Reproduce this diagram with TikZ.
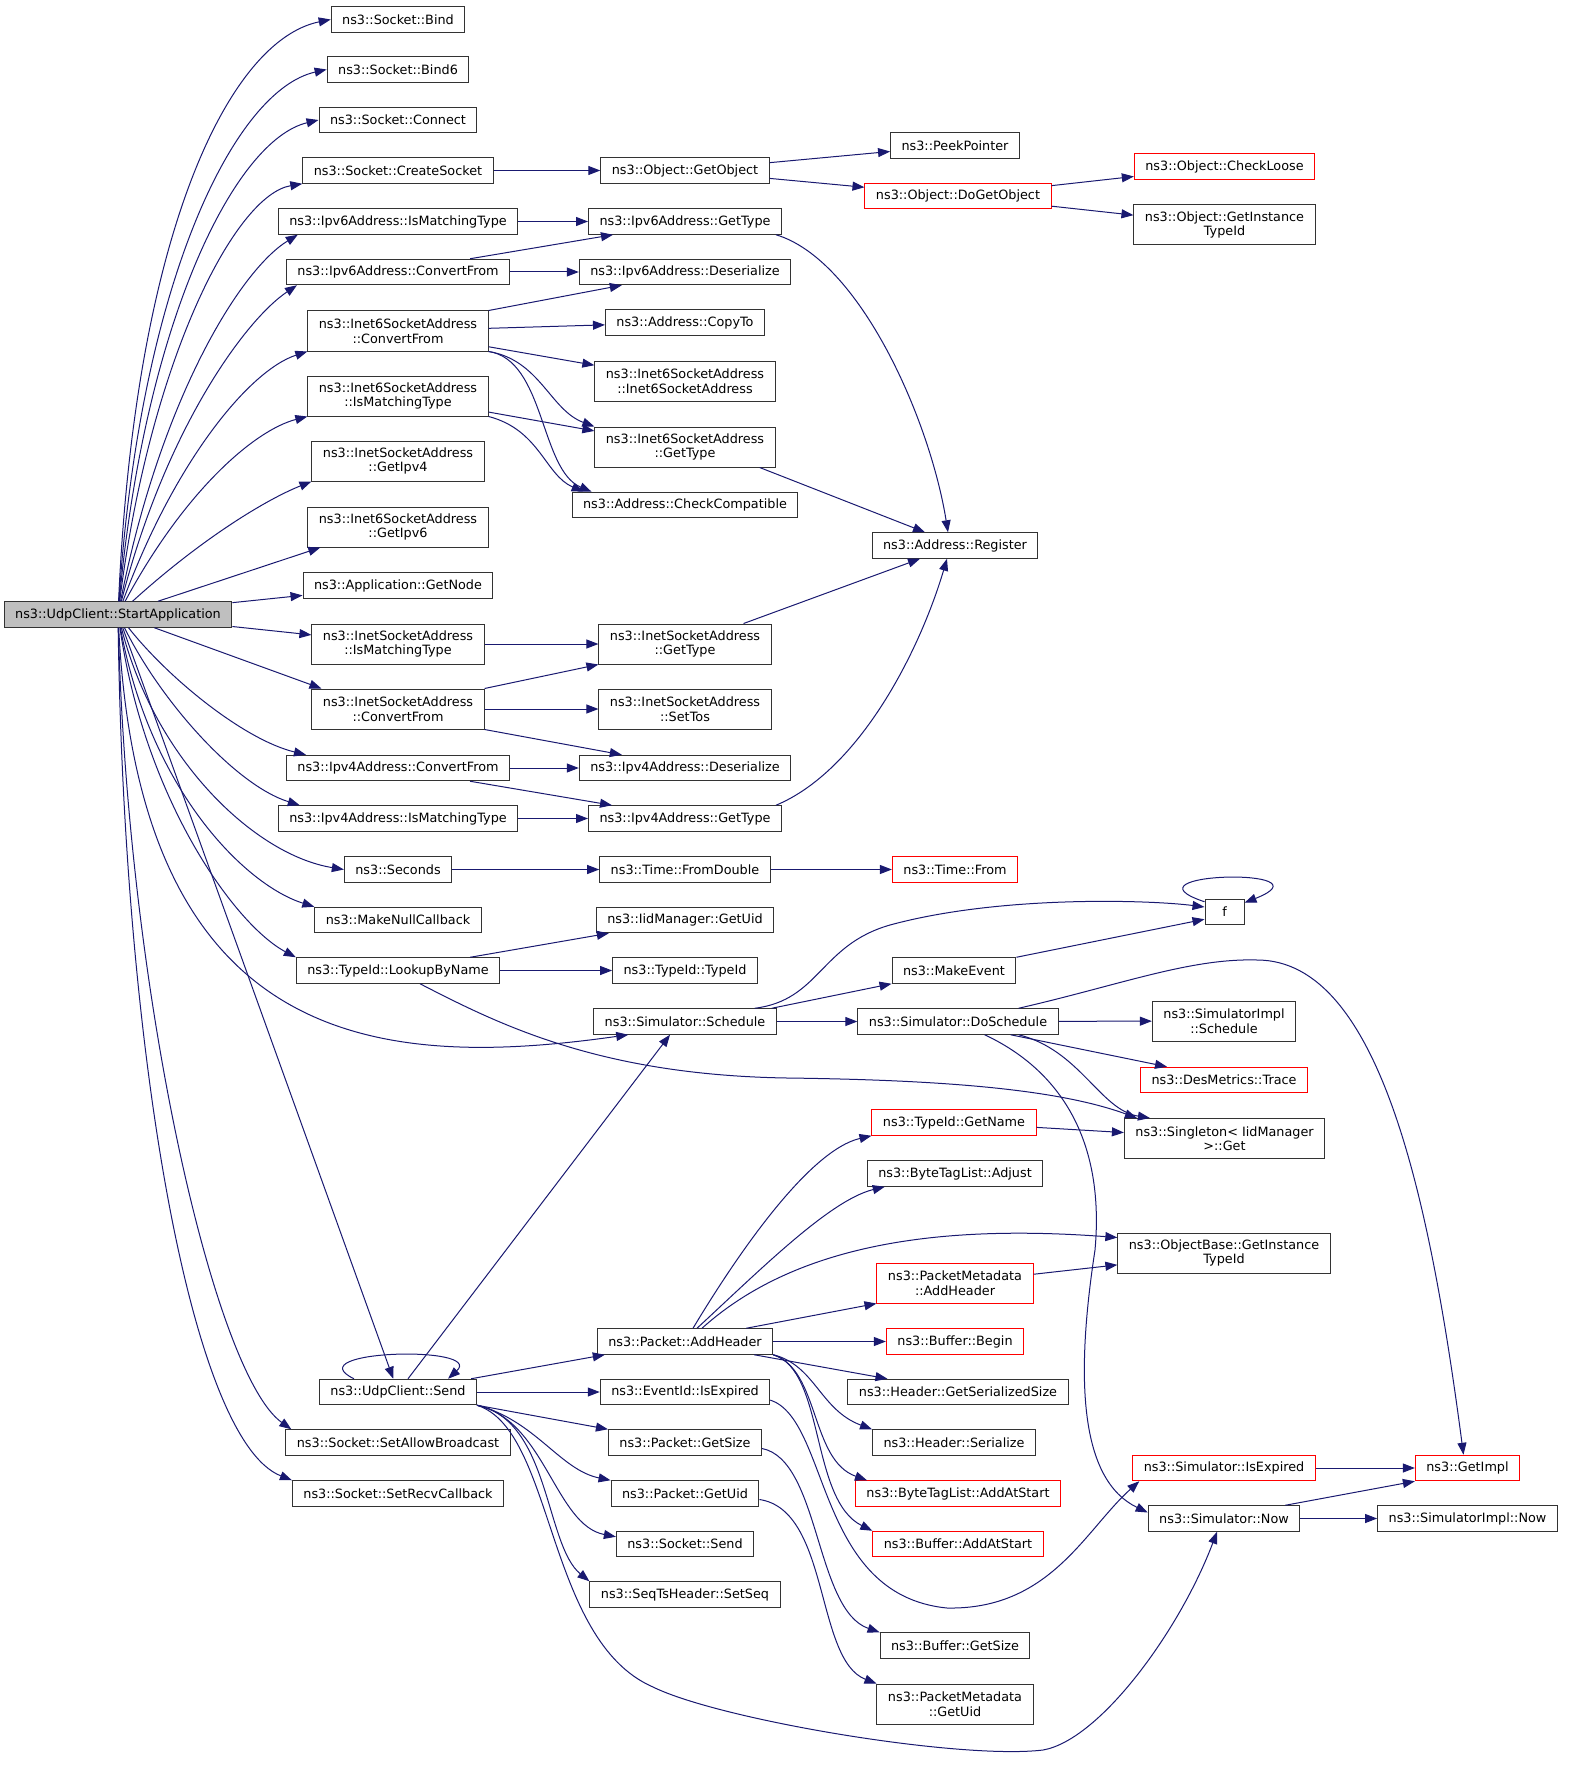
\documentclass[tikz,border=0pt]{standalone}
\usepackage{fontspec}
\setmainfont{DejaVu Sans}
\usetikzlibrary{arrows.meta}
\definecolor{edgeblue}{RGB}{25,25,112}
\newcommand{\fnfont}{\fontsize{12.8}{14.5}\selectfont}
\tikzset{
  fn/.style={draw=black!80, line width=1pt, fill=white, inner xsep=11pt, inner ysep=0pt,
    minimum height=25.5pt, align=center, font=\fnfont},
  fnred/.style={fn, draw=red},
  fnroot/.style={fn, fill=black!25},
  twoline/.style={minimum height=40pt},
  call/.style={draw=edgeblue, line width=1pt, -{Triangle[length=12pt,width=9pt]}},
}
\begin{document}
\begin{tikzpicture}[x=1pt, y=-1pt]
\useasboundingbox (0,0) rectangle (1569,1768);

\node[fnroot] (sa) at (118,614.5) {ns3::UdpClient::StartApplication};

\node[fn] (bind) at (398,19.5) {ns3::Socket::Bind};
\node[fn] (bindsix) at (398,69.5) {ns3::Socket::Bind6};
\node[fn] (connect) at (398,120) {ns3::Socket::Connect};
\node[fn] (createsock) at (398,170.5) {ns3::Socket::CreateSocket};
\node[fn] (vsixmatch) at (398,221.5) {ns3::Ipv6Address::IsMatchingType};
\node[fn] (vsixconv) at (398,272) {ns3::Ipv6Address::ConvertFrom};
\node[fn,twoline] (isixconv) at (398,331) {ns3::Inet6SocketAddress\\::ConvertFrom};
\node[fn,twoline] (isixmatch) at (398,396) {ns3::Inet6SocketAddress\\::IsMatchingType};
\node[fn,twoline] (ifourip) at (398,461) {ns3::InetSocketAddress\\::GetIpv4};
\node[fn,twoline] (isixip) at (398,527) {ns3::Inet6SocketAddress\\::GetIpv6};
\node[fn] (getnode) at (398,585.5) {ns3::Application::GetNode};
\node[fn,twoline] (ifourmatch) at (398,644) {ns3::InetSocketAddress\\::IsMatchingType};
\node[fn,twoline] (ifourconv) at (398,709) {ns3::InetSocketAddress\\::ConvertFrom};
\node[fn] (vfourconv) at (398,768) {ns3::Ipv4Address::ConvertFrom};
\node[fn] (vfourmatch) at (398,818.5) {ns3::Ipv4Address::IsMatchingType};
\node[fn] (seconds) at (398,869.5) {ns3::Seconds};
\node[fn] (nullcb) at (398,920) {ns3::MakeNullCallback};
\node[fn] (lookup) at (398,970.5) {ns3::TypeId::LookupByName};
\node[fn] (send) at (398,1392) {ns3::UdpClient::Send};
\node[fn] (allowbc) at (398,1442.5) {ns3::Socket::SetAllowBroadcast};
\node[fn] (recvcb) at (398,1493.5) {ns3::Socket::SetRecvCallback};

\node[fn] (getobj) at (685,170.5) {ns3::Object::GetObject};
\node[fn] (vsixtype) at (685,221.5) {ns3::Ipv6Address::GetType};
\node[fn] (vsixdeser) at (685,272) {ns3::Ipv6Address::Deserialize};
\node[fn] (copyto) at (685,322.5) {ns3::Address::CopyTo};
\node[fn,twoline] (isixctor) at (685,381) {ns3::Inet6SocketAddress\\::Inet6SocketAddress};
\node[fn,twoline] (isixtype) at (685,447) {ns3::Inet6SocketAddress\\::GetType};
\node[fn] (checkcomp) at (685,505) {ns3::Address::CheckCompatible};
\node[fn,twoline] (ifourtype) at (685,644) {ns3::InetSocketAddress\\::GetType};
\node[fn,twoline] (settos) at (685,709) {ns3::InetSocketAddress\\::SetTos};
\node[fn] (vfourdeser) at (685,768) {ns3::Ipv4Address::Deserialize};
\node[fn] (vfourtype) at (685,818.5) {ns3::Ipv4Address::GetType};
\node[fn] (fromdouble) at (685,869.5) {ns3::Time::FromDouble};
\node[fn] (getuid) at (685,920) {ns3::IidManager::GetUid};
\node[fn] (typeidctor) at (685,970.5) {ns3::TypeId::TypeId};
\node[fn] (schedule) at (685,1021.5) {ns3::Simulator::Schedule};
\node[fn] (addheader) at (685,1341.5) {ns3::Packet::AddHeader};
\node[fn] (evexpired) at (685,1392) {ns3::EventId::IsExpired};
\node[fn] (pktsize) at (685,1442.5) {ns3::Packet::GetSize};
\node[fn] (pktuid) at (685,1493.5) {ns3::Packet::GetUid};
\node[fn] (socksend) at (685,1544) {ns3::Socket::Send};
\node[fn] (setseq) at (685,1594.5) {ns3::SeqTsHeader::SetSeq};

\node[fn] (peek) at (955,145.5) {ns3::PeekPointer};
\node[fnred] (dogetobj) at (958,196) {ns3::Object::DoGetObject};
\node[fn] (register) at (955,545.5) {ns3::Address::Register};
\node[fnred] (timefrom) at (955,869.5) {ns3::Time::From};
\node[fn] (makeevent) at (954,970.5) {ns3::MakeEvent};
\node[fn] (dosched) at (958,1021.5) {ns3::Simulator::DoSchedule};
\node[fnred] (getname) at (954,1122.5) {ns3::TypeId::GetName};
\node[fn] (btladjust) at (955,1173.5) {ns3::ByteTagList::Adjust};
\node[fnred,twoline] (pmaddhdr) at (955,1283) {ns3::PacketMetadata\\::AddHeader};
\node[fnred] (bufbegin) at (955,1341.5) {ns3::Buffer::Begin};
\node[fn] (hdrsize) at (958,1392) {ns3::Header::GetSerializedSize};
\node[fn] (hdrser) at (954,1442.5) {ns3::Header::Serialize};
\node[fnred] (btladd) at (958,1493.5) {ns3::ByteTagList::AddAtStart};
\node[fnred] (bufadd) at (958,1544) {ns3::Buffer::AddAtStart};
\node[fn] (bufsize) at (955,1645.5) {ns3::Buffer::GetSize};
\node[fn,twoline] (pmuid) at (955,1704) {ns3::PacketMetadata\\::GetUid};

\node[fnred] (checkloose) at (1224.5,166.5) {ns3::Object::CheckLoose};
\node[fn,twoline] (objtypeid) at (1224.5,225) {ns3::Object::GetInstance\\TypeId};
\node[fn,minimum width=39pt] (f) at (1224.5,912) {f};
\node[fn,twoline] (implsched) at (1224,1021) {ns3::SimulatorImpl\\::Schedule};
\node[fnred] (trace) at (1224,1080) {ns3::DesMetrics::Trace};
\node[fn,twoline] (singleton) at (1224.5,1138.5) {ns3::Singleton< IidManager\\ >::Get};
\node[fn,twoline] (obtypeid) at (1224,1253) {ns3::ObjectBase::GetInstance\\TypeId};
\node[fnred] (simexpired) at (1224,1468) {ns3::Simulator::IsExpired};
\node[fn] (simnow) at (1224,1518.5) {ns3::Simulator::Now};

\node[fnred] (getimpl) at (1467.5,1468) {ns3::GetImpl};
\node[fn] (implnow) at (1467.5,1518.5) {ns3::SimulatorImpl::Now};

\draw[call] (sa) .. controls (135,230) and (230,40) .. (bind.west);
\draw[call] (sa) .. controls (140,280) and (235,90) .. (bindsix.west);
\draw[call] (sa) .. controls (145,320) and (235,140) .. (connect.west);
\draw[call] (sa) .. controls (150,360) and (235,195) .. (createsock.south west);
\draw[call] (sa) .. controls (160,400) and (240,270) .. ([xshift=20pt]vsixmatch.south west);
\draw[call] (sa) .. controls (165,430) and (245,320) .. ([xshift=11pt]vsixconv.south west);
\draw[call] (sa) .. controls (175,460) and (250,370) .. (isixconv.south west);
\draw[call] (sa) .. controls (185,490) and (255,430) .. (isixmatch.south west);
\draw[call] (sa) .. controls (200,540) and (265,500) .. (ifourip.south west);
\draw[call] (sa) -- ([xshift=13pt]isixip.south west);
\draw[call] (sa) -- (getnode);
\draw[call] (sa) -- (ifourmatch);
\draw[call] (sa) -- ([xshift=10pt]ifourconv.north west);
\draw[call] (sa) .. controls (170,680) and (245,740) .. ([xshift=20pt]vfourconv.north west);
\draw[call] (sa) .. controls (160,700) and (235,785) .. ([xshift=22pt]vfourmatch.north west);
\draw[call] (sa) .. controls (155,760) and (255,855) .. (seconds.west);
\draw[call] (sa) .. controls (150,790) and (245,885) .. (nullcb.north west);
\draw[call] (sa) .. controls (145,800) and (235,925) .. (lookup.north west);
\draw[call] (sa) .. controls (140,1050) and (380,1070) .. ([xshift=35pt]schedule.south west);
\draw[call] (sa) -- (send);
\draw[call] (sa) .. controls (128,1000) and (215,1375) .. ([xshift=6pt]allowbc.north west);
\draw[call] (sa) .. controls (124,1050) and (190,1440) .. (recvcb.north west);

\draw[call] (createsock) -- (getobj);
\draw[call] (vsixmatch) -- (vsixtype);
\draw[call] ([xshift=-40pt]vsixconv.north east) -- ([xshift=25pt]vsixtype.south west);
\draw[call] (vsixconv) -- (vsixdeser);
\draw[call] (isixconv.north east) -- ([xshift=43pt]vsixdeser.south west);
\draw[call] (isixconv) -- (copyto);
\draw[call] (isixconv) -- (isixctor);
\draw[call] (isixconv.south east) .. controls (540,360) and (550,410) .. (isixtype.north west);
\draw[call] (isixconv.south east) .. controls (545,360) and (540,470) .. ([xshift=20pt]checkcomp.north west);
\draw[call] (isixmatch) -- (isixtype);
\draw[call] (isixmatch.south east) .. controls (540,430) and (545,475) .. ([xshift=12pt]checkcomp.north west);
\draw[call] (ifourmatch) -- (ifourtype);
\draw[call] (ifourconv.north east) -- (ifourtype.south west);
\draw[call] (ifourconv) -- (settos);
\draw[call] (ifourconv.south east) -- ([xshift=43pt]vfourdeser.north west);
\draw[call] (vfourconv) -- (vfourdeser);
\draw[call] ([xshift=-40pt]vfourconv.south east) -- ([xshift=24pt]vfourtype.north west);
\draw[call] (vfourmatch) -- (vfourtype);
\draw[call] (seconds) -- (fromdouble);
\draw[call] ([xshift=-30pt]lookup.north east) -- ([xshift=13pt]getuid.south west);
\draw[call] (lookup) -- (typeidctor);
\draw[call] ([xshift=22pt]lookup.south) .. controls (500,1025) and (600,1075) .. (787,1078)
  .. controls (950,1080) and (1060,1090) .. ([xshift=13pt]singleton.north west);

\draw[call] ([xshift=35pt]send.north west) .. controls (295,1350) and (485,1345) .. ([xshift=-29pt]send.north east);
\draw[call] ([xshift=10pt]send.north) -- ([xshift=-15pt]schedule.south);
\draw[call] ([xshift=-6pt]send.north east) -- ([xshift=8pt]addheader.south west);
\draw[call] (send) -- (evexpired);
\draw[call] (send.south east) -- (pktsize.north west);
\draw[call] (send.south east) .. controls (535,1420) and (560,1470) .. (pktuid.north west);
\draw[call] (send.south east) .. controls (545,1420) and (555,1525) .. ([yshift=-6pt]socksend.north west);
\draw[call] (send.south east) .. controls (550,1420) and (545,1545) .. (setseq.north west);
\draw[call] (send.south east) .. controls (555,1430) and (545,1640) .. (653,1687)
  .. controls (720,1720) and (960,1760) .. (1043,1750)
  .. controls (1100,1740) and (1180,1630) .. ([xshift=-7pt]simnow.south);

\draw[call] (getobj) -- (peek);
\draw[call] (getobj) -- (dogetobj);
\draw[call] ([xshift=-6pt]vsixtype.south east) .. controls (860,260) and (930,420) .. ([xshift=-7pt]register.north);
\draw[call] ([xshift=-16pt]isixtype.south east) -- ([xshift=-30pt]register.north);
\draw[call] ([xshift=-28pt]ifourtype.north east) -- ([xshift=-35pt]register.south);
\draw[call] ([xshift=-6pt]vfourtype.north east) .. controls (860,770) and (920,650) .. ([xshift=-8pt]register.south);
\draw[call] (fromdouble) -- (timefrom);
\draw[call] ([xshift=-22pt]schedule.north east) .. controls (820,1000) and (820,945) .. (890,925)
  .. controls (1000,895) and (1150,900) .. ([yshift=5pt]f.west);
\draw[call] ([xshift=-5pt]schedule.north east) -- (makeevent.south west);
\draw[call] (schedule) -- (dosched);
\draw[call] ([xshift=8pt]addheader.north) .. controls (740,1250) and (810,1150) .. (getname.south west);
\draw[call] ([xshift=12pt]addheader.north) .. controls (760,1270) and (830,1200) .. ([xshift=18pt]btladjust.south west);
\draw[call] ([xshift=17pt]addheader.north) .. controls (800,1240) and (950,1225) .. ([yshift=-5pt]obtypeid.north west);
\draw[call] ([xshift=-27pt]addheader.north east) -- (pmaddhdr.south west);
\draw[call] (addheader) -- (bufbegin);
\draw[call] ([xshift=-19pt]addheader.south east) -- ([xshift=40pt]hdrsize.north west);
\draw[call] (addheader.south east) .. controls (815,1365) and (820,1410) .. (hdrser.north west);
\draw[call] (addheader.south east) .. controls (820,1370) and (810,1460) .. ([xshift=12pt]btladd.north west);
\draw[call] (addheader.south east) .. controls (825,1370) and (810,1500) .. (bufadd.north west);
\draw[call] ([yshift=-8pt]evexpired.east) .. controls (830,1420) and (815,1595) .. (947,1608)
  .. controls (1050,1610) and (1085,1530) .. ([xshift=7pt]simexpired.south west);
\draw[call] ([yshift=-6pt]pktsize.east) .. controls (820,1460) and (815,1610) .. (bufsize.north west);
\draw[call] ([yshift=-6pt]pktuid.east) .. controls (830,1510) and (815,1660) .. (pmuid.north west);

\draw[call] (dogetobj) -- (checkloose);
\draw[call] (dogetobj) -- (objtypeid);
\draw[call] (makeevent.north east) -- ([yshift=6pt]f.south west);
\draw[call] ([yshift=-3pt]f.north west) .. controls (1115,872) and (1335,867) .. ([yshift=-4pt]f.north east);
\draw[call] (dosched) -- (implsched);
\draw[call] ([xshift=-48pt]dosched.south east) -- ([xshift=27pt]trace.north west);
\draw[call] ([xshift=-40pt]dosched.south east) .. controls (1080,1050) and (1100,1110) .. ([xshift=26pt]singleton.north west);
\draw[call] ([xshift=-74pt]dosched.south east) .. controls (1060,1070) and (1105,1140) .. (1095,1250)
  .. controls (1075,1380) and (1080,1480) .. ([yshift=6pt]simnow.west);
\draw[call] ([xshift=-40pt]dosched.north east) .. controls (1120,985) and (1190,958) .. (1257,960)
  .. controls (1380,960) and (1430,1200) .. ([xshift=-4pt]getimpl.north);
\draw[call] (getname) -- (singleton);
\draw[call] (pmaddhdr) -- (obtypeid);
\draw[call] (simexpired) -- (getimpl);
\draw[call] ([xshift=-15pt]simnow.north east) -- (getimpl.south west);
\draw[call] (simnow) -- (implnow);
\end{tikzpicture}
\end{document}
